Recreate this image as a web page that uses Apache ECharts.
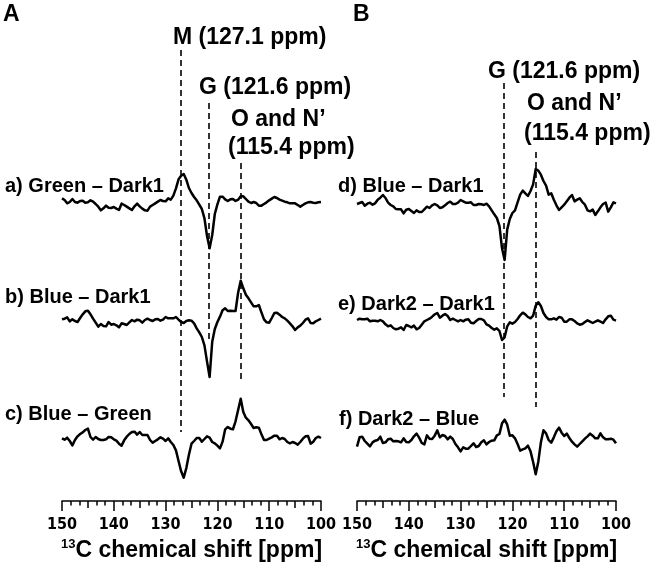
<!DOCTYPE html>
<html><head><meta charset="utf-8">
<script src="https://cdn.jsdelivr.net/npm/echarts@6/dist/echarts.min.js"></script>
<style>html,body{margin:0;padding:0;background:#fff}#c{width:658px;height:570px}</style>
</head><body><div id="c"></div>
<script>
// chemical shift grid (ppm), 0.5 ppm sampling
const ppm = [150,149.5,149,148.5,148,147.5,147,146.5,146,145.5,145,144.5,144,143.5,143,142.5,142,141.5,141,140.5,
140,139.5,139,138.5,138,137.5,137,136.5,136,135.5,135,134.5,134,133.5,133,132.5,132,131.5,131,130.5,
130,129.5,129,128.5,128,127.5,127,126.5,126,125.5,125,124.5,124,123.5,123,122.5,122,121.5,121,120.5,
120,119.5,119,118.5,118,117.5,117,116.5,116,115.5,115,114.5,114,113.5,113,112.5,112,111.5,111,110.5,
110,109.5,109,108.5,108,107.5,107,106.5,106,105.5,105,104.5,104,103.5,103,102.5,102,101.5,101,100.5,100];

// difference spectra intensities (a.u.)
const greenMinusDark1 = [10,5,-5,-1,8,-1,-3,2,3,-3,-2,4,0,-7,-15,-26,-20,-12,-18,-19,-16,-21,-25,-6,-10,-15,-20,-25,-14,-6,
-14,-21,-26,-27,-15,-10,-5,0,5,2,1,10,6,18,40,67,78,83,66,41,26,14,4,-9,-22,-50,-103,-140,-100,-37,
-8,15,15,7,2,7,8,2,6,16,16,8,0,-4,-1,-4,-12,-12,-7,-2,4,9,14,11,6,3,0,-2,-5,-5,-5,-10,-15,-10,-5,-2,-1,-3,-4,-2,-1];
const blueMinusDark1A = [7,9,13,1,7,2,-1,11,22,31,33,22,9,-3,-15,-7,-13,-14,-1,-9,-7,-11,-17,-5,-7,-10,-2,5,1,6,
4,-3,5,9,5,2,7,8,3,6,14,10,10,10,14,6,-1,-4,2,4,3,-5,-20,-32,-46,-71,-120,-166,-60,-22,
-1,15,34,40,32,33,32,32,87,123,100,81,70,58,46,46,50,28,7,-2,-3,11,26,27,21,14,10,3,-5,-14,-25,-17,-12,-4,6,10,-4,-5,1,5,9];
const blueMinusGreen = [5,1,7,-3,-16,0,11,18,23,30,34,9,1,9,3,0,0,2,9,8,2,-2,-11,-17,-1,10,18,24,25,16,
24,15,15,15,0,-8,-3,2,8,4,-3,5,-6,-15,-31,-63,-94,-113,-84,-44,-11,-3,6,6,-5,3,11,7,-6,-10,
-17,-25,-5,32,39,34,32,56,90,124,84,67,59,48,36,38,37,17,0,0,4,8,13,13,2,6,3,-6,-10,-6,-9,-14,-6,4,11,12,-11,-5,6,10,6];
const blueMinusDark1B = [8,11,14,3,9,12,6,10,21,27,35,26,12,5,1,-7,-8,-8,-20,-9,-7,-13,-19,-11,-16,-16,-8,0,-4,4,
8,4,-4,-2,4,11,15,8,8,12,20,16,12,12,13,5,5,8,7,5,9,1,-11,-23,-34,-58,-125,-160,-68,-37,
-19,-11,13,36,48,40,32,47,67,113,108,96,77,63,36,40,21,4,-10,-2,6,16,27,35,16,21,25,14,6,-11,-14,-9,-25,-14,-2,8,12,-15,-2,13,10];
const dark2MinusDark1 = [5,9,7,7,9,1,3,3,1,5,1,-8,-14,-11,-19,-23,-21,-17,-25,-10,-13,-17,-12,-23,-19,-9,1,5,9,15,
22,26,12,18,23,17,5,9,5,1,5,1,6,7,-3,-5,2,8,8,4,-8,-12,-19,-24,-20,-28,-55,-47,-14,-2,
-6,-1,8,19,27,22,14,10,18,48,58,47,26,14,7,7,10,6,14,12,0,0,7,7,2,-5,-9,-7,-1,4,0,-4,0,4,0,-4,7,16,18,6,3];
const dark2MinusBlue = [-15,13,15,2,-6,-14,-2,3,5,15,-4,-2,7,9,1,2,1,-2,10,-1,-2,5,16,24,12,-4,-8,19,9,8,
18,34,13,20,17,7,15,8,-7,-17,-29,-17,-21,-21,-13,-5,-16,-13,-2,4,-8,-1,3,4,19,23,55,66,51,18,
19,10,-7,-27,-23,-20,-12,-29,-61,-98,-60,-2,34,25,5,-3,13,31,42,27,17,24,11,0,-8,-15,-7,1,9,16,24,18,10,10,25,13,7,7,9,6,-5];

const traceNamesA = ['a) Green \u2013 Dark1','b) Blue \u2013 Dark1','c) Blue \u2013 Green'];
const traceNamesB = ['d) Blue \u2013 Dark1','e) Dark2 \u2013 Dark1','f) Dark2 \u2013 Blue'];
const peakPpmA = [127.1, 121.6, 115.4];
const peakPpmB = [121.6, 115.4];
const peakLabelsA = ['M (127.1 ppm)','G (121.6 ppm)','O and N\u2019','(115.4 ppm)'];
const peakLabelsB = ['G (121.6 ppm)','O and N\u2019','(115.4 ppm)'];
const axisMin = 100, axisMax = 150, labelStep = 10, midStep = 5;
const panelLetters = ['A','B'];

// ---------- layout ----------
const FONT = "'Liberation Sans', Arial, Helvetica, sans-serif";
const NARROW = "'Liberation Sans Narrow','Arial Narrow','DejaVu Sans Condensed', sans-serif";
const Y_MAX = 1413; // 3 units per px over a 471px tall grid
const gridA = {left:62, width:259, top:30, height:471};
const gridB = {left:357, width:259, top:30, height:471};
const offsetsA = [898, 538, 183];
const offsetsB = [883, 538, 178];
const lineExtA = [[1353,207],[1194,483],[1014,354]];
const lineExtB = [[1254,312],[1047,282]];

const grids = [gridA, gridA, gridB, gridB].map(g => Object.assign({outerBoundsMode:'none', containLabel:false}, g));

const axisStyle = {color:'#000', width:1.5};
function mainX(gi){
  return {type:'value', gridIndex:gi, min:axisMin, max:axisMax, inverse:true, interval:labelStep, position:'bottom',
    axisLine:{show:true, onZero:false, lineStyle:axisStyle},
    axisTick:{show:true, inside:false, length:10, lineStyle:axisStyle},
    minorTick:{show:true, splitNumber:6, length:4.5, lineStyle:axisStyle},
    splitLine:{show:false}, minorSplitLine:{show:false},
    axisLabel:{show:true, margin:16, color:'#000', fontFamily:NARROW, fontWeight:'bold', fontSize:16},
    name:'{sup|13}{main|C chemical shift [ppm]}', nameLocation:'middle', nameGap:37,
    nameTextStyle:{color:'#000', rich:{
      sup:{fontSize:13, fontWeight:'bold', fontFamily:FONT, color:'#000', verticalAlign:'top', lineHeight:14},
      main:{fontSize:23, fontWeight:'bold', fontFamily:FONT, color:'#000', lineHeight:26}}}
  };
}
function midX(gi){
  return {type:'value', gridIndex:gi, min:axisMin, max:axisMax, inverse:true, interval:midStep, position:'bottom',
    axisLine:{show:false}, axisTick:{show:true, inside:false, length:7, lineStyle:axisStyle},
    axisLabel:{show:false}, splitLine:{show:false}};
}
const xAxes = [mainX(0), midX(1), mainX(2), midX(3)];
const yAxes = [0,1,2,3].map(gi => ({type:'value', gridIndex:gi, min:0, max:Y_MAX, show:false, splitLine:{show:false}}));

function traceSeries(vals, off, xi, mark){
  const s = {type:'line', xAxisIndex:xi, yAxisIndex:xi, showSymbol:false, symbol:'none', silent:true,
    lineStyle:{color:'#000', width:2.5, join:'round'}, data: ppm.map((p,i)=>[p, off + vals[i]])};
  if (mark) s.markLine = mark;
  return s;
}
function dashes(peaks, ext){
  return {silent:true, symbol:['none','none'], label:{show:false},
    lineStyle:{color:'#000', width:1.6, type:[6,4]},
    data: peaks.map((p,k)=>[{coord:[p, ext[k][0]]},{coord:[p, ext[k][1]]}])};
}

const series = [
  traceSeries(greenMinusDark1, offsetsA[0], 0, dashes(peakPpmA, lineExtA)),
  traceSeries(blueMinusDark1A, offsetsA[1], 0),
  traceSeries(blueMinusGreen, offsetsA[2], 0),
  traceSeries(blueMinusDark1B, offsetsB[0], 2, dashes(peakPpmB, lineExtB)),
  traceSeries(dark2MinusDark1, offsetsB[1], 2),
  traceSeries(dark2MinusBlue, offsetsB[2], 2)
];

function txt(s, x, y, size){
  return {type:'text', x:x, y:y, silent:true, style:{text:s, fill:'#000', font:'bold '+size+'px '+FONT, align:'left', verticalAlign:'middle'}};
}
const graphic = [
  txt(panelLetters[0], 3, 15, 23), txt(panelLetters[1], 353, 15, 23),
  txt(peakLabelsA[0], 173, 38, 23), txt(peakLabelsA[1], 199, 88, 23),
  txt(peakLabelsA[2], 231, 120, 23), txt(peakLabelsA[3], 228, 148, 23),
  txt(peakLabelsB[0], 488, 72, 23), txt(peakLabelsB[1], 527, 104, 23), txt(peakLabelsB[2], 524, 134, 23),
  txt(traceNamesA[0], 5, 186, 20), txt(traceNamesA[1], 5, 297, 20), txt(traceNamesA[2], 5, 414, 20),
  txt(traceNamesB[0], 338, 186, 20), txt(traceNamesB[1], 338, 304, 20), txt(traceNamesB[2], 339, 419, 20)
];

const chart = echarts.init(document.getElementById('c'), null, {renderer:'canvas', width:658, height:570});
chart.setOption({animation:false, backgroundColor:'#fff', grid:grids, xAxis:xAxes, yAxis:yAxes, series:series, graphic:graphic});
</script></body></html>
